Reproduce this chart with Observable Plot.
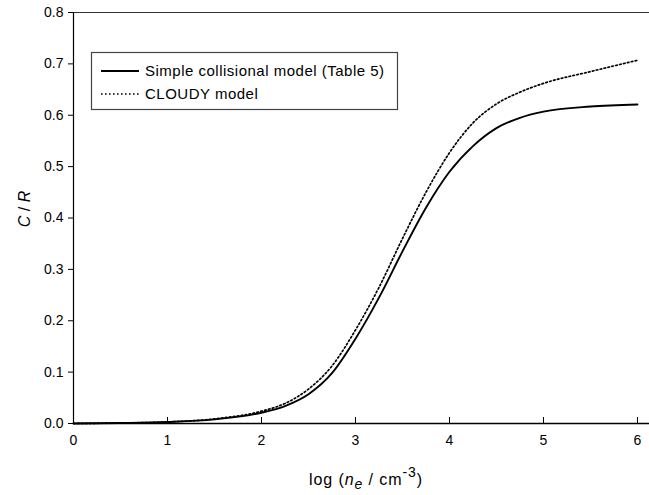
<!DOCTYPE html>
<html>
<head>
<meta charset="utf-8">
<script src="https://cdn.jsdelivr.net/npm/d3@7"></script>
<script src="https://cdn.jsdelivr.net/npm/@observablehq/plot@0.6"></script>
<style>
  html, body { margin: 0; padding: 0; background: #fff; }
  #chart svg { display: block; }
</style>
</head>
<body>
<div id="chart"></div>
<script>
const logNe = [0, 0.5, 1.0, 1.5, 2.0, 2.25, 2.5, 2.75, 3.0, 3.25, 3.5, 3.75, 4.0, 4.25, 4.5, 4.75, 5.0, 5.5, 6.0];
const simpleModel = [0, 0.001, 0.003, 0.008, 0.021, 0.034, 0.057, 0.098, 0.165, 0.245, 0.335, 0.42, 0.49, 0.54, 0.575, 0.595, 0.607, 0.617, 0.621];
const cloudyModel = [0, 0.001, 0.003, 0.009, 0.024, 0.039, 0.067, 0.112, 0.182, 0.265, 0.36, 0.45, 0.527, 0.585, 0.622, 0.645, 0.662, 0.685, 0.707];
const xTicks = [0, 1, 2, 3, 4, 5, 6];
const yTicks = [0, 0.1, 0.2, 0.3, 0.4, 0.5, 0.6, 0.7, 0.8];
const seriesNames = ["Simple collisional model (Table 5)", "CLOUDY model"];

const simpleData = logNe.map((x, i) => ({x, y: simpleModel[i]}));
const cloudyData = logNe.map((x, i) => ({x, y: cloudyModel[i]}));

const font = "Arial, 'Liberation Sans', Helvetica, sans-serif";

const plot = Plot.plot({
  width: 649,
  height: 495,
  marginLeft: 73,
  marginTop: 12,
  marginRight: 0,
  marginBottom: 72,
  style: {fontFamily: font, fontSize: "14px", background: "#fff", color: "#000"},
  x: {domain: [0, 6.128]},
  y: {domain: [0, 0.8]},
  marks: [
    Plot.axisY({ticks: yTicks, tickSize: 5, tickPadding: 5, tickFormat: d3.format(".1f"), label: null, fontSize: 14}),
    Plot.axisX({ticks: xTicks, tickSize: 0, tickPadding: 12, tickFormat: d3.format("d"), label: null, fontSize: 14}),
    Plot.axisX({ticks: xTicks, tickSize: -6, tickPadding: 0, tickFormat: () => "", label: null}),
    Plot.ruleY([0.8], {stroke: "#333", strokeWidth: 1.2}),
    Plot.ruleX([0], {stroke: "#000", strokeWidth: 1.2}),
    Plot.line(cloudyData, {x: "x", y: "y", curve: "monotone-x", stroke: "#000", strokeWidth: 1.7, strokeDasharray: "1.6,2.4"}),
    Plot.line(simpleData, {x: "x", y: "y", curve: "monotone-x", stroke: "#000", strokeWidth: 1.9}),
    Plot.ruleY([0], {stroke: "#000", strokeWidth: 1.6})
  ]
});

document.getElementById("chart").appendChild(plot);

const svg = d3.select(plot);

// Y-axis title: C / R (italic C and R)
const yt = svg.append("text")
  .attr("transform", "translate(30,209) rotate(-90)")
  .attr("text-anchor", "middle")
  .attr("font-family", font)
  .attr("font-size", 16)
  .attr("fill", "#000");
yt.append("tspan").attr("font-style", "italic").text("C");
yt.append("tspan").text(" / ");
yt.append("tspan").attr("font-style", "italic").text("R");

// X-axis title: log (n_e / cm^-3)
const xt = svg.append("text")
  .attr("x", 366).attr("y", 485)
  .attr("text-anchor", "middle")
  .attr("font-family", font)
  .attr("font-size", 16)
  .attr("letter-spacing", 0.9)
  .attr("fill", "#000");
xt.append("tspan").text("log (");
xt.append("tspan").attr("font-style", "italic").text("n");
xt.append("tspan").attr("font-style", "italic").attr("font-size", 14).attr("dy", 4).text("e");
xt.append("tspan").attr("dy", -4).text(" / cm");
xt.append("tspan").attr("font-size", 14).attr("dy", -8).text("-3");
xt.append("tspan").attr("dy", 8).text(")");

// Legend
const lg = svg.append("g").attr("font-family", font).attr("font-size", 15)
  .attr("letter-spacing", 0.5).attr("text-anchor", "start").attr("fill", "#000");
lg.append("rect").attr("x", 91.5).attr("y", 52.5).attr("width", 306).attr("height", 57)
  .attr("fill", "#fff").attr("stroke", "#444").attr("stroke-width", 1.2);
lg.append("line").attr("x1", 101).attr("x2", 139).attr("y1", 71).attr("y2", 71)
  .attr("stroke", "#000").attr("stroke-width", 1.9);
lg.append("line").attr("x1", 101).attr("x2", 139).attr("y1", 94).attr("y2", 94)
  .attr("stroke", "#000").attr("stroke-width", 1.7).attr("stroke-dasharray", "1.6,2.4");
lg.append("text").attr("x", 145).attr("y", 76).text(seriesNames[0]);
lg.append("text").attr("x", 145).attr("y", 99).text(seriesNames[1]);
</script>
</body>
</html>
